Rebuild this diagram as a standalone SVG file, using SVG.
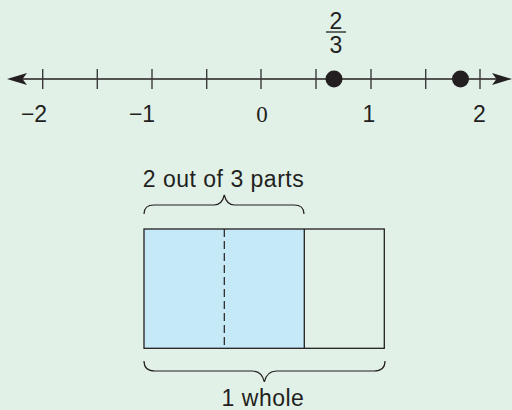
<svg xmlns="http://www.w3.org/2000/svg" width="512" height="410" viewBox="0 0 512 410">
<style>
.ax{stroke:#231f20;stroke-width:1.6;fill:none}
.tk{stroke:#3a3a3a;stroke-width:1.4}
.lb{font-family:"Liberation Sans",Arial,sans-serif;font-size:23px;fill:#231f20;text-anchor:middle}
.sf{font-family:"Liberation Serif","Times New Roman",serif;font-size:23px;fill:#231f20;text-anchor:middle}
.br{stroke:#231f20;stroke-width:1.2;fill:none}
.bx{stroke:#231f20;stroke-width:1.3}
</style>
<rect width="512" height="410" fill="#e1f1e8"/>
<g id="numberline">
<line class="ax" x1="14" y1="79" x2="505" y2="79"/>
<path d="M7,79 L27,73 L22.5,79 L27,85 Z" fill="#231f20"/>
<path d="M512,79 L492,73 L496.5,79 L492,85 Z" fill="#231f20"/>
<g class="tk">
<line x1="42.7" y1="69" x2="42.7" y2="89"/>
<line x1="97.3" y1="69" x2="97.3" y2="89"/>
<line x1="152" y1="69" x2="152" y2="89"/>
<line x1="206.7" y1="69" x2="206.7" y2="89"/>
<line x1="261" y1="69" x2="261" y2="89"/>
<line x1="316" y1="69" x2="316" y2="89"/>
<line x1="371" y1="69" x2="371" y2="89"/>
<line x1="425.7" y1="69" x2="425.7" y2="89"/>
<line x1="480" y1="69" x2="480" y2="89"/>
</g>
<text class="lb" x="34" y="122">−2</text>
<text class="lb" x="142" y="122">−1</text>
<text class="sf" x="262" y="122">0</text>
<text class="lb" x="369" y="122">1</text>
<text class="lb" x="479.5" y="122">2</text>
</g>
<g id="points">
<circle cx="334" cy="79" r="8.5" fill="#231f20"/>
<circle cx="460.5" cy="79" r="8.5" fill="#231f20"/>
<text class="lb" x="336" y="28.5">2</text>
<line x1="326" y1="32" x2="346" y2="32" stroke="#231f20" stroke-width="1.3"/>
<text class="lb" x="336" y="53">3</text>
</g>
<g id="bar">
<rect x="144" y="229" width="160.3" height="119.3" fill="#c6e9f8"/>
<rect class="bx" x="144" y="229" width="240.3" height="119.3" fill="none"/>
<line class="bx" x1="304.3" y1="229" x2="304.3" y2="348.3"/>
<line x1="224.3" y1="229" x2="224.3" y2="348.3" stroke="#231f20" stroke-width="1.2" stroke-dasharray="8,4"/>
</g>
<g id="braces">
<path class="br" d="M144,214 Q144,205 154,205 L214,205 Q222,205 224.3,195 Q226.6,205 234.6,205 L294,205 Q304,205 304,214"/>
<path class="br" d="M144,361 Q144,371 155,371 L252,371 Q262,371 264.3,382 Q266.6,371 276.6,371 L374,371 Q385,371 385,361"/>
<text class="lb" x="223.5" y="186.5" letter-spacing="0.5">2 out of 3 parts</text>
<text class="lb" x="263" y="406" letter-spacing="0.5">1 whole</text>
</g>
</svg>
